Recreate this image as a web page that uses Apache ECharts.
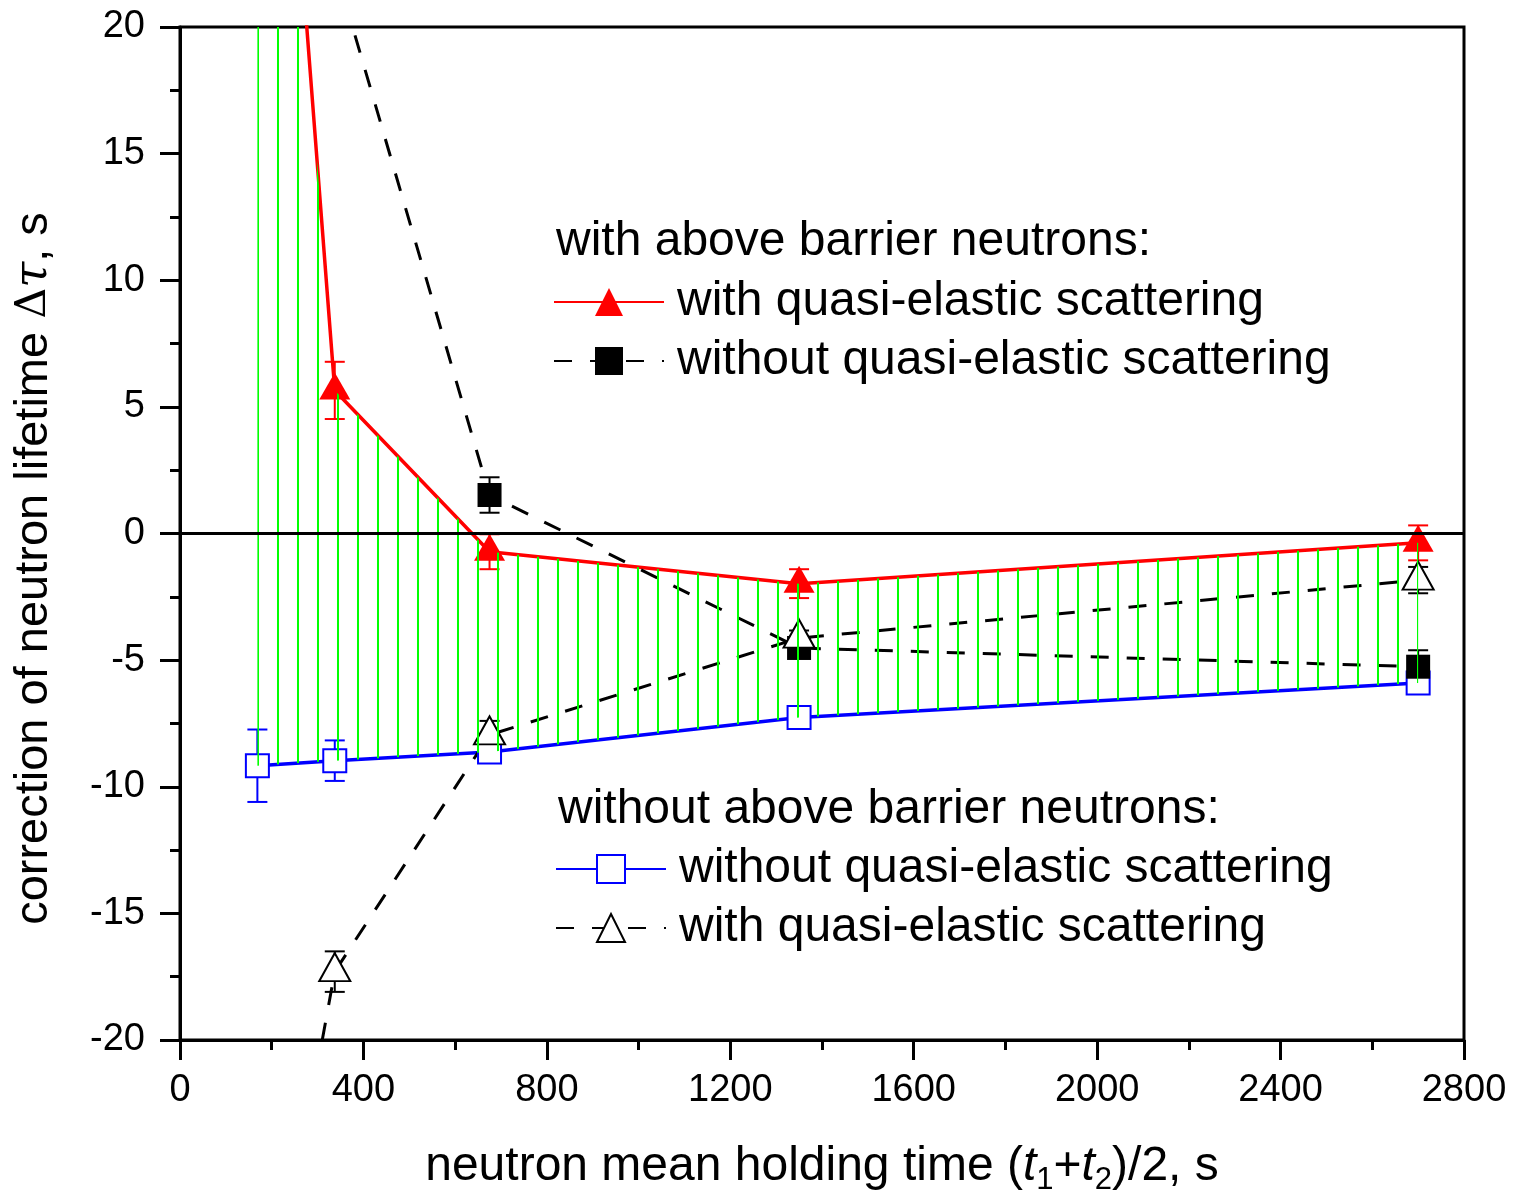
<!DOCTYPE html>
<html>
<head>
<meta charset="utf-8">
<script src="https://cdn.jsdelivr.net/npm/echarts@6/dist/echarts.min.js"></script>
<style>
  html, body { margin: 0; padding: 0; background: #fff; }
  #chart { width: 1513px; height: 1198px; }
</style>
</head>
<body>
<div id="chart"></div>
<script>
const FONT = '"Liberation Sans", Arial, sans-serif';

// neutron mean holding time (t1+t2)/2, s
const holdTimes = [168.75, 337.5, 675, 1350, 2700];

// with above barrier neutrons
const aboveWithQuasi = [45.3, 5.65, -0.72, -1.98, -0.37];
const aboveWithQuasiErr = [null, 1.13, 0.69, 0.57, 0.69];
const aboveWithoutQuasi = [null, 22.4, 1.52, -4.52, -5.26];
const aboveWithoutQuasiErr = [null, null, 0.7, 0.4, 0.65];

// without above barrier neutrons
const noAboveWithoutQuasi = [-9.17, -8.97, -8.63, -7.27, -5.9];
const noAboveWithoutQuasiErr = [1.43, 0.8, 0.4, 0.3, 0.35];
const noAboveWithQuasi = [-34, -17.3, -7.95, -4.13, -1.84];
const noAboveWithQuasiErr = [null, 0.8, 0.55, 0.3, 0.52];

// axis ranges
const xRange = { min: 0, max: 2800, interval: 400 };
const yRange = { min: -20, max: 20, interval: 5 };

const pairs = ys => holdTimes.map((x, i) => [x, ys[i]]);

// green vertical hatching tile for the band between the two solid curves
const hatchTile = document.createElement('canvas');
hatchTile.width = 20;
hatchTile.height = 4;
const hctx = hatchTile.getContext('2d');
hctx.fillStyle = '#00ff00';
hctx.fillRect(17, 0, 2, 4);

function errorBars(name, ys, errs, color) {
  const data = [];
  holdTimes.forEach((x, i) => {
    if (ys[i] != null && errs[i] != null) data.push([x, ys[i] - errs[i], ys[i] + errs[i]]);
  });
  return {
    type: 'custom',
    name: name,
    data: data,
    z: 2,
    clip: true,
    silent: true,
    encode: { x: 0, y: [1, 2] },
    renderItem: (params, api) => {
      const lo = api.coord([api.value(0), api.value(1)]);
      const hi = api.coord([api.value(0), api.value(2)]);
      const style = { stroke: color, lineWidth: 2, fill: null };
      return {
        type: 'group',
        children: [
          { type: 'line', shape: { x1: lo[0], y1: lo[1], x2: hi[0], y2: hi[1] }, style },
          { type: 'line', shape: { x1: lo[0] - 10, y1: lo[1], x2: lo[0] + 10, y2: lo[1] }, style },
          { type: 'line', shape: { x1: hi[0] - 10, y1: hi[1], x2: hi[0] + 10, y2: hi[1] }, style }
        ]
      };
    }
  };
}

const textBase = { fontFamily: FONT, color: '#000', fontWeight: 'normal' };

const chart = echarts.init(document.getElementById('chart'));

const option = {
  animation: false,
  backgroundColor: '#fff',
  textStyle: { fontFamily: FONT },
  grid: {
    left: 180, right: 49, top: 27, bottom: 158,
    outerBoundsMode: 'none',
    show: true, borderColor: '#000', borderWidth: 3, backgroundColor: 'transparent'
  },
  title: [
    { text: 'with above barrier neutrons:', left: 556, top: 218, padding: 0,
      textStyle: Object.assign({ fontSize: 48 }, textBase) },
    { text: 'without above barrier neutrons:', left: 558, top: 786, padding: 0,
      textStyle: Object.assign({ fontSize: 48 }, textBase) }
  ],
  legend: [
    {
      orient: 'vertical', left: 553, top: 278, padding: 0,
      itemWidth: 110, itemHeight: 35, itemGap: 11,
      data: ['with quasi-elastic scattering', 'without quasi-elastic scattering'],
      textStyle: Object.assign({ fontSize: 48, padding: [0, 0, 0, 8] }, textBase)
    },
    {
      orient: 'vertical', left: 555, top: 845, padding: 0,
      itemWidth: 110, itemHeight: 35, itemGap: 11,
      data: ['without quasi-elastic scattering ', 'with quasi-elastic scattering '],
      formatter: n => n.trim(),
      textStyle: Object.assign({ fontSize: 48, padding: [0, 0, 0, 8] }, textBase)
    }
  ],
  xAxis: {
    type: 'value',
    min: xRange.min, max: xRange.max, interval: xRange.interval,
    name: '{n|neutron mean holding time (}{i|t}{s|1}{n|+}{i|t}{s|2}{n|)/2, s}',
    nameLocation: 'middle',
    nameGap: 98,
    nameTextStyle: {
      rich: {
        n: { fontSize: 48, fontFamily: FONT, color: '#000', lineHeight: 58, verticalAlign: 'middle' },
        i: { fontSize: 48, fontFamily: FONT, color: '#000', fontStyle: 'italic', lineHeight: 58, verticalAlign: 'middle' },
        s: { fontSize: 31, fontFamily: FONT, color: '#000', lineHeight: 31, verticalAlign: 'bottom' }
      }
    },
    axisLine: { onZero: false, lineStyle: { color: '#000', width: 3 } },
    axisTick: { inside: false, length: 20, lineStyle: { color: '#000', width: 3 } },
    minorTick: { show: true, splitNumber: 2, length: 10, lineStyle: { color: '#000', width: 3 } },
    axisLabel: { fontSize: 38, margin: 32, color: '#000', fontFamily: FONT, formatter: v => String(v) },
    splitLine: { show: false }
  },
  yAxis: {
    type: 'value',
    min: yRange.min, max: yRange.max, interval: yRange.interval,
    name: '{n|correction of neutron lifetime }{d|Δ}{i|τ}{n|, s}',
    nameLocation: 'middle',
    nameGap: 118,
    nameTextStyle: {
      padding: [0, 70, 0, 0],
      rich: {
        n: { fontSize: 47, fontFamily: FONT, color: '#000', lineHeight: 56 },
        d: { fontSize: 43, fontFamily: '"DejaVu Serif", serif', color: '#000', lineHeight: 56 },
        i: { fontSize: 47, fontFamily: '"DejaVu Serif", serif', fontStyle: 'italic', color: '#000', lineHeight: 56 }
      }
    },
    axisLine: { onZero: false, lineStyle: { color: '#000', width: 3 } },
    axisTick: { inside: false, length: 20, lineStyle: { color: '#000', width: 3 } },
    minorTick: { show: true, splitNumber: 2, length: 10, lineStyle: { color: '#000', width: 3 } },
    axisLabel: { fontSize: 38, margin: 35, color: '#000', fontFamily: FONT, formatter: v => String(v) },
    splitLine: { show: false }
  },
  series: [
    errorBars('err-above-with', aboveWithQuasi, aboveWithQuasiErr, '#ff0000'),
    errorBars('err-above-without', aboveWithoutQuasi, aboveWithoutQuasiErr, '#000'),
    errorBars('err-noabove-without', noAboveWithoutQuasi, noAboveWithoutQuasiErr, '#0000ff'),
    errorBars('err-noabove-with', noAboveWithQuasi, noAboveWithQuasiErr, '#000'),
    {
      type: 'line',
      name: 'without quasi-elastic scattering ',
      data: pairs(noAboveWithoutQuasi),
      z: 3,
      symbol: 'emptyRect', symbolSize: 23,
      itemStyle: { color: '#0000ff', borderWidth: 2 },
      lineStyle: { color: '#0000ff', width: 3.5 },
      markLine: {
        silent: true, symbol: 'none', label: { show: false },
        lineStyle: { color: '#000', width: 3, type: 'solid' },
        data: [{ yAxis: 0 }]
      }
    },
    {
      type: 'line',
      name: 'with quasi-elastic scattering',
      data: pairs(aboveWithQuasi),
      z: 3,
      symbol: 'triangle', symbolSize: [31, 27], symbolOffset: [0, -4.5],
      itemStyle: { color: '#ff0000', borderWidth: 0 },
      lineStyle: { color: '#ff0000', width: 3.5 }
    },
    {
      type: 'line',
      name: 'without quasi-elastic scattering',
      data: pairs(aboveWithoutQuasi),
      z: 3,
      symbol: 'rect', symbolSize: 24,
      itemStyle: { color: '#000', borderWidth: 0 },
      lineStyle: { color: '#000', width: 3, type: [18, 18] }
    },
    {
      type: 'line',
      name: 'with quasi-elastic scattering ',
      data: pairs(noAboveWithQuasi),
      z: 3,
      symbol: 'emptyTriangle', symbolSize: [31, 28], symbolOffset: [0, -4.5],
      itemStyle: { color: '#000', borderWidth: 2 },
      lineStyle: { color: '#000', width: 3, type: [18, 18] }
    },
    {
      // hatched band between the red and the blue curves
      type: 'custom',
      name: 'band',
      z: 4,
      silent: true,
      clip: true,
      data: [[holdTimes[0], 0]],
      encode: { x: 0, y: 1 },
      renderItem: (params, api) => {
        const upper = holdTimes.map((x, i) => api.coord([x, aboveWithQuasi[i]]));
        const lower = holdTimes.map((x, i) => api.coord([x, noAboveWithoutQuasi[i]])).reverse();
        return {
          type: 'polygon',
          shape: { points: upper.concat(lower) },
          style: { fill: { image: hatchTile, repeat: 'repeat' }, stroke: null }
        };
      }
    }
  ]
};

chart.setOption(option);
</script>
</body>
</html>
